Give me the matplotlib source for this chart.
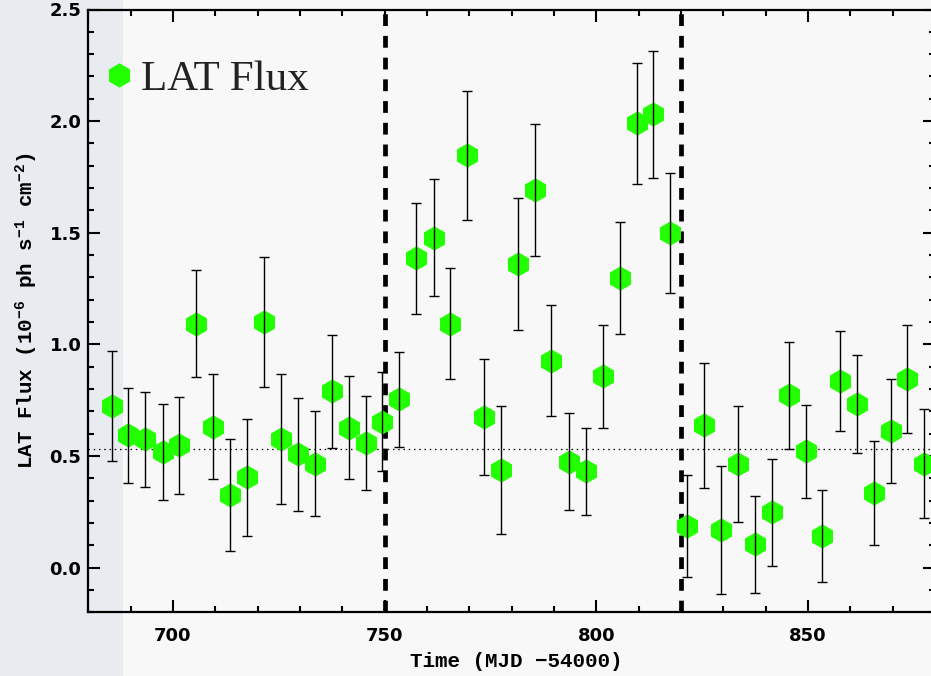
import matplotlib
matplotlib.use("Agg")
import matplotlib.pyplot as plt
from matplotlib.lines import Line2D
from matplotlib.patches import Rectangle
from matplotlib.ticker import MultipleLocator, FormatStrFormatter
from matplotlib.transforms import ScaledTranslation

# ---- data ----
time = [685.5, 689.4, 693.5, 697.6, 701.5, 705.5, 709.5, 713.5, 717.5, 721.5,
        725.5, 729.5, 733.5, 737.6, 741.5, 745.5, 749.4, 753.5, 757.5, 761.6,
        765.5, 769.5, 773.5, 777.5, 781.5, 785.5, 789.4, 793.5, 797.5, 801.5,
        805.5, 809.5, 813.5, 817.5, 821.5, 825.5, 829.5, 833.5, 837.5, 841.5,
        845.5, 849.5, 853.4, 857.5, 861.5, 865.5, 869.5, 873.5, 877.5]
flux = [0.724, 0.592, 0.575, 0.518, 0.548, 1.093, 0.630, 0.325, 0.404, 1.100,
        0.574, 0.507, 0.466, 0.789, 0.626, 0.557, 0.653, 0.754, 1.385, 1.478,
        1.093, 1.846, 0.675, 0.438, 1.359, 1.690, 0.927, 0.475, 0.431, 0.856,
        1.297, 1.991, 2.030, 1.499, 0.187, 0.638, 0.168, 0.465, 0.104, 0.247,
        0.772, 0.520, 0.142, 0.835, 0.732, 0.335, 0.612, 0.845, 0.466]
flux_err = [0.246, 0.211, 0.212, 0.214, 0.218, 0.240, 0.235, 0.251, 0.261, 0.289,
            0.291, 0.252, 0.237, 0.254, 0.230, 0.210, 0.221, 0.213, 0.250, 0.263,
            0.250, 0.288, 0.260, 0.286, 0.296, 0.295, 0.249, 0.217, 0.194, 0.230,
            0.250, 0.271, 0.283, 0.267, 0.229, 0.280, 0.286, 0.259, 0.218, 0.238,
            0.239, 0.209, 0.205, 0.224, 0.221, 0.233, 0.234, 0.241, 0.245]
mean_flux = 0.53
period_bounds = [750, 820]
legend_label = "LAT Flux"
xlabel = "Time (MJD \u221254000)"
ylabel = r"LAT Flux (10$^{-6}$ ph s$^{-1}$ cm$^{-2}$)"

GREEN = "#22ff00"

plt.rcParams["mathtext.default"] = "regular"

W, H = 931, 676
fig = plt.figure(figsize=(W / 100, H / 100), dpi=100)
fig.patch.set_facecolor("#f8f8f8")
fig.add_artist(Rectangle((0, 0), 123 / W, 1, transform=fig.transFigure,
                         facecolor="#e8ebef", edgecolor="none", zorder=-5))

L, R, T, B = 88.3, 935.0, 9.5, 612.2
ax = fig.add_axes([L / W, 1 - B / H, (R - L) / W, (B - T) / H])
ax.set_facecolor("none")

ax.set_xlim(680, 880)
ax.set_ylim(-0.2, 2.5)

ax.axhline(mean_flux, color="black", lw=0.9, ls=(0, (1.2, 3.0)), zorder=1)
for xb in period_bounds:
    ax.axvline(xb, color="black", lw=3.4, ls=(0, (2.5, 2.1)), zorder=1)

ax.plot(time, flux, ls="none", marker="h", ms=17.5, color=GREEN,
        mec="none", zorder=2)
ax.errorbar(time, flux, yerr=flux_err, fmt="none", ecolor="black",
            elinewidth=1.0, capsize=3.6, capthick=1.0, zorder=3)

# ticks
ax.xaxis.set_major_locator(MultipleLocator(50))
ax.xaxis.set_minor_locator(MultipleLocator(10))
ax.yaxis.set_major_locator(MultipleLocator(0.5))
ax.yaxis.set_minor_locator(MultipleLocator(0.1))
ax.tick_params(which="both", direction="in", top=True, right=True,
               width=1.5, color="black")
ax.tick_params(which="major", length=8.5)
ax.tick_params(which="minor", length=4.3)
ax.tick_params(axis="x", which="major", pad=11)
ax.tick_params(axis="y", which="major", pad=5)
ax.xaxis.set_major_formatter(FormatStrFormatter("%d"))
ax.yaxis.set_major_formatter(FormatStrFormatter("%.1f"))
for lab in ax.get_xticklabels() + ax.get_yticklabels():
    lab.set_fontfamily("DejaVu Sans")
    lab.set_fontweight("bold")
    lab.set_fontsize(13)
for sp in ax.spines.values():
    sp.set_linewidth(1.6)

# the topmost y label sits slightly lower in the reference
ylabs = ax.get_yticklabels()
if ylabs:
    top = ylabs[-1]
    top.set_transform(top.get_transform() + ScaledTranslation(0, -0.07, fig.dpi_scale_trans))

lab_font = dict(family=["Liberation Mono", "DejaVu Sans Mono"], weight="bold", size=15)
ax.set_xlabel(xlabel, **lab_font)
ax.set_ylabel(ylabel, **lab_font)
ax.xaxis.set_label_coords((516.5 - L) / (R - L), -(652 - B) / (B - T))
ax.yaxis.set_label_coords(-(88.3 - 40) / (R - L), 0.5)

handle = Line2D([], [], ls="none", marker="h", ms=17.5, color=GREEN, mec="none")
leg = ax.legend([handle], [legend_label], loc="upper left",
                bbox_to_anchor=((100 - L) / (R - L), 1 - (60 - T) / (B - T)),
                frameon=False, handlelength=0.9, handletextpad=0.05,
                borderpad=0, borderaxespad=0,
                prop=dict(family="Liberation Serif", size=31))
for t in leg.get_texts():
    t.set_color("#222222")

fig.savefig("out.png", dpi=100, facecolor=fig.get_facecolor())
